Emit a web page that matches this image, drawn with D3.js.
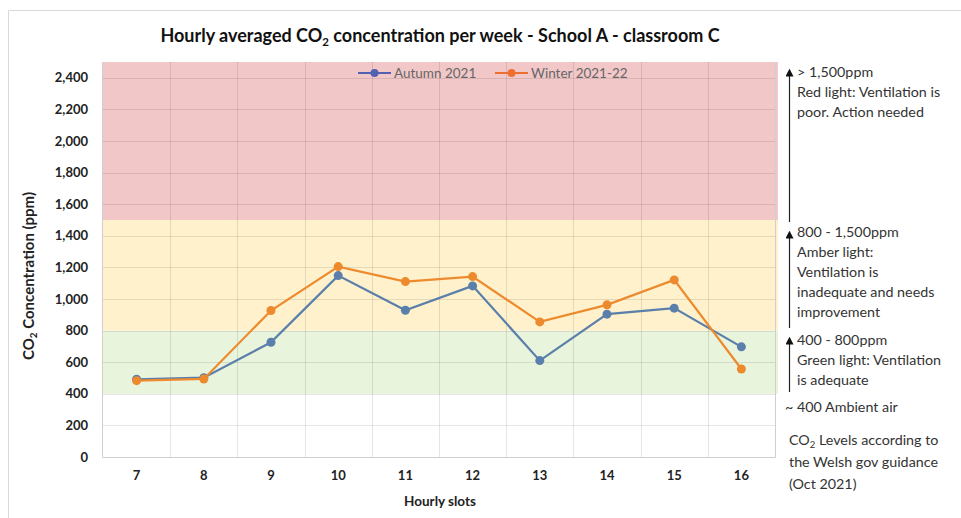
<!DOCTYPE html>
<html>
<head>
<meta charset="utf-8" />
<title>CO2 chart</title>
<script src="https://d3js.org/d3.v7.min.js"></script>
<style>
  body { margin: 0; background: #fff; }
  svg { display: block; font-family: Lato, "Open Sans", sans-serif; }
</style>
</head>
<body>
<div id="chart"></div>
<script>
var hours = [7, 8, 9, 10, 11, 12, 13, 14, 15, 16];
var autumn = [492, 502, 726, 1148, 929, 1083, 610, 904, 942, 697];
var winter = [483, 494, 927, 1205, 1110, 1142, 855, 963, 1121, 557];
var yTicks = [0, 200, 400, 600, 800, 1000, 1200, 1400, 1600, 1800, 2000, 2200, 2400];
var bands = [
  {from: 400, to: 800, color: "#e9f4dc"},
  {from: 800, to: 1500, color: "#fff1cc"},
  {from: 1500, to: 2500, color: "#f2c7c8"}
];

var width = 961, height = 518;
var pl = 103, pr = 775, pt = 62, pb = 457;

var svg = d3.select("#chart").append("svg").attr("width", width).attr("height", height);

// chart frame
svg.append("path").attr("d", "M8.5," + height + "V10.5H" + width)
  .attr("fill", "none").attr("stroke", "#d9d9d9");

var x = d3.scaleBand().domain(hours).range([pl, pr]);
var y = d3.scaleLinear().domain([0, 2500]).range([pb, pt]);
var cx = function(h) { return x(h) + x.bandwidth() / 2; };

// coloured ranges
svg.selectAll(".band").data(bands).enter().append("rect")
  .attr("x", pl).attr("width", pr - pl + 3)
  .attr("y", function(d) { return y(d.to); })
  .attr("height", function(d) { return y(d.from) - y(d.to); })
  .attr("fill", function(d) { return d.color; });

// gridlines
svg.selectAll(".hg").data(yTicks.slice(1)).enter().append("line")
  .attr("x1", pl).attr("x2", pr)
  .attr("y1", function(d) { return Math.round(y(d)) + 0.5; })
  .attr("y2", function(d) { return Math.round(y(d)) + 0.5; })
  .attr("stroke", "rgba(0,0,0,0.1)");
svg.selectAll(".vg").data(hours.slice(1)).enter().append("line")
  .attr("x1", function(d) { return Math.round(x(d)) + 0.5; })
  .attr("x2", function(d) { return Math.round(x(d)) + 0.5; })
  .attr("y1", pt).attr("y2", pb)
  .attr("stroke", "rgba(0,0,0,0.1)");

// plot border
svg.append("path").attr("d", "M" + (pl - 0.5) + "," + pt + "V" + (pb + 0.5) + "H" + (pr + 0.5) + "V" + pt)
  .attr("fill", "none").attr("stroke", "#cfcfcf");

// axes labels
svg.selectAll(".yl").data(yTicks).enter().append("text")
  .attr("x", 88).attr("y", function(d) { return y(d); }).attr("dy", "0.35em")
  .attr("text-anchor", "end").attr("font-size", 13).attr("font-weight", "bold").attr("fill", "#222")
  .text(function(d) { return d3.format(",")(d); });
svg.selectAll(".xl").data(hours).enter().append("text")
  .attr("x", cx).attr("y", 480).attr("text-anchor", "middle")
  .attr("font-size", 13).attr("font-weight", "bold").attr("fill", "#222")
  .text(function(d) { return d; });

svg.append("text").attr("x", 440).attr("y", 506).attr("text-anchor", "middle")
  .attr("font-size", 13.5).attr("font-weight", "bold").attr("fill", "#222").text("Hourly slots");

var yt = svg.append("text").attr("transform", "translate(34,276) rotate(-90)")
  .attr("text-anchor", "middle").attr("font-size", 15).attr("font-weight", "bold").attr("fill", "#222");
yt.append("tspan").text("CO");
yt.append("tspan").attr("font-size", 10).attr("dy", 3).text("2");
yt.append("tspan").attr("dy", -3).text(" Concentration (ppm)");

// title
var tt = svg.append("text").attr("x", 440).attr("y", 42).attr("text-anchor", "middle")
  .attr("font-size", 18).attr("font-weight", "bold").attr("fill", "#111");
tt.append("tspan").text("Hourly averaged CO");
tt.append("tspan").attr("font-size", 11.5).attr("dy", 4).text("2");
tt.append("tspan").attr("dy", -4).text(" concentration  per week - School  A - classroom C");

// series
var series = [
  {name: "Autumn 2021", values: autumn, color: "#5a7fab", legend: "#5262b3", lx: 358},
  {name: "Winter 2021-22", values: winter, color: "#ee8a2e", legend: "#ed7030", lx: 495}
];
var line = d3.line().x(function(d, i) { return cx(hours[i]); }).y(function(d) { return y(d); });

series.forEach(function(s) {
  svg.append("path").datum(s.values).attr("d", line)
    .attr("fill", "none").attr("stroke", s.color).attr("stroke-width", 2.2);
  svg.selectAll(null).data(s.values).enter().append("circle")
    .attr("cx", function(d, i) { return cx(hours[i]); })
    .attr("cy", function(d) { return y(d); })
    .attr("r", 4.5).attr("fill", s.color);
  var g = svg.append("g").attr("transform", "translate(" + s.lx + ",73)");
  g.append("line").attr("x1", 0).attr("x2", 33).attr("stroke", s.legend).attr("stroke-width", 2);
  g.append("circle").attr("cx", 16.5).attr("r", 4).attr("fill", s.legend);
  g.append("text").attr("x", 36).attr("dy", "0.35em").attr("font-size", 13.5).attr("fill", "#666").text(s.name);
});

// annotations
var arrows = [[67, 222], [229, 328], [335, 392]];
svg.append("defs").append("marker").attr("id", "ah").attr("viewBox", "0 0 10 10")
  .attr("refX", 2).attr("refY", 5).attr("markerWidth", 8).attr("markerHeight", 8)
  .attr("markerUnits", "userSpaceOnUse").attr("orient", "auto")
  .append("path").attr("d", "M0,0L10,5L0,10Z").attr("fill", "#111");
svg.selectAll(".arr").data(arrows).enter().append("line")
  .attr("x1", 789.5).attr("x2", 789.5)
  .attr("y1", function(d) { return d[1]; }).attr("y2", function(d) { return d[0] + 8; })
  .attr("stroke", "#222").attr("stroke-width", 1.2).attr("marker-end", "url(#ah)");

var notes = [
  [797, 77, "> 1,500ppm"], [797, 97, "Red light: Ventilation is"], [797, 117, "poor. Action needed"],
  [797, 237, "800 - 1,500ppm"], [797, 257, "Amber light:"], [797, 277, "Ventilation is"],
  [797, 297, "inadequate and needs"], [797, 317, "improvement"],
  [797, 345, "400 - 800ppm"], [797, 365, "Green light: Ventilation"], [797, 385, "is adequate"],
  [785, 412, "~ 400 Ambient air"],
  [789, 467, "the Welsh gov guidance"], [789, 489, "(Oct 2021)"]
];
svg.selectAll(".note").data(notes).enter().append("text")
  .attr("x", function(d) { return d[0]; }).attr("y", function(d) { return d[1]; })
  .attr("font-size", 14.3).attr("fill", "#333").text(function(d) { return d[2]; });
var co = svg.append("text").attr("x", 789).attr("y", 445).attr("font-size", 14.3).attr("fill", "#333");
co.append("tspan").text("CO");
co.append("tspan").attr("font-size", 9.5).attr("dy", 3).text("2");
co.append("tspan").attr("dy", -3).text(" Levels according to");
</script>
</body>
</html>
